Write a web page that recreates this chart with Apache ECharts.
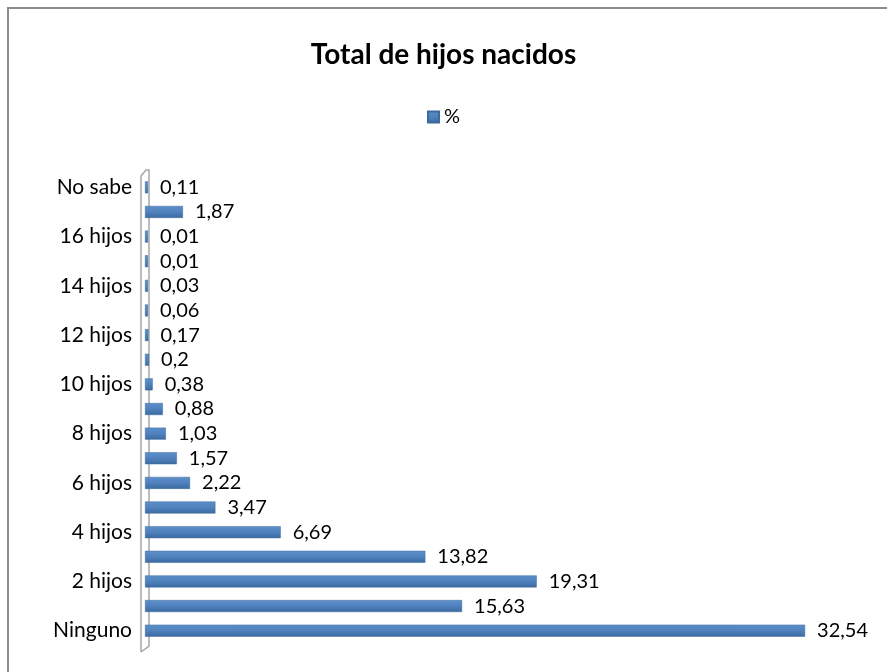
<!DOCTYPE html>
<html>
<head>
<meta charset="utf-8">
<script src="https://cdn.jsdelivr.net/npm/echarts@6/dist/echarts.min.js"></script>
<style>html,body{margin:0;padding:0;background:#fff;}#c{width:887px;height:672px;}</style>
</head>
<body>
<div id="c"></div>
<script>
const categories = ['Ninguno','1 hijo','2 hijos','3 hijos','4 hijos','5 hijos','6 hijos','7 hijos','8 hijos','9 hijos','10 hijos','11 hijos','12 hijos','13 hijos','14 hijos','15 hijos','16 hijos','17 y más hijos','No sabe'];
const values = [32.54,15.63,19.31,13.82,6.69,3.47,2.22,1.57,1.03,0.88,0.38,0.2,0.17,0.06,0.03,0.01,0.01,1.87,0.11];
const seriesName = '%';
const titleText = 'Total de hijos nacidos';

const chart = echarts.init(document.getElementById('c'));
chart.setOption({
  backgroundColor: '#fff',
  animation: false,
  title: {
    text: titleText, left: 'center', top: 36,
    textStyle: {fontFamily: 'Lato', fontWeight: 'bold', fontSize: 28, color: '#000'}
  },
  legend: {
    data: [seriesName], left: 'center', top: 102, itemWidth: 11, itemHeight: 11,
    icon: 'rect', itemGap: 4,
    textStyle: {fontFamily: 'Lato', fontSize: 20, color: '#000'}
  },
  graphic: [
    {type: 'polyline', shape: {points: [[8, 672], [8, 8], [887, 8]]}, style: {stroke: '#8c8c8c', lineWidth: 2, fill: null}, z: 0},
    {type: 'polyline', shape: {points: [[141, 652], [141, 176], [146, 170], [149, 170], [149, 646], [141, 652]]}, style: {stroke: '#a6a6a6', lineWidth: 1.5, fill: null}, z: 0}
  ],
  grid: {left: 145, right: 32, top: 175, bottom: 29},
  xAxis: {
    type: 'value', min: 0, max: 35, show: false
  },
  yAxis: {
    type: 'category', data: categories,
    axisLine: {show: false},
    axisTick: {show: false},
    axisLabel: {interval: 1, margin: 13, fontFamily: 'Lato', fontSize: 21, color: '#000'}
  },
  series: [{
    name: seriesName, type: 'bar', data: values, barWidth: 12, barMinHeight: 3,
    itemStyle: {
      color: new echarts.graphic.LinearGradient(0, 0, 0, 1, [
        {offset: 0, color: '#5d8fcb'}, {offset: 0.5, color: '#4f81bd'}, {offset: 1, color: '#3c6a9f'}
      ]),
      borderColor: '#3d6a9e', borderWidth: 0.5
    },
    label: {
      show: true, position: 'right', distance: 12,
      fontFamily: 'Lato', fontSize: 20, color: '#000',
      formatter: p => String(p.value).replace('.', ',')
    }
  }]
});
</script>
</body>
</html>
